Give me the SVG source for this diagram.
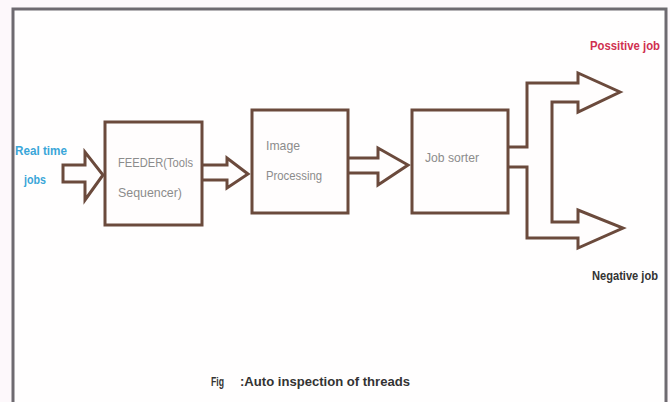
<svg xmlns="http://www.w3.org/2000/svg" width="670" height="402" viewBox="0 0 670 402">
<style>
.box{fill:#fffdfd;stroke:#6b4a3c;stroke-width:3}
.arr{fill:#fffdfd;stroke:#6b4a3c;stroke-width:3;stroke-linejoin:miter}
.t{font-family:"Liberation Sans",Arial,sans-serif;font-size:13px;fill:#8c8c8c}
.b{font-family:"Liberation Sans",Arial,sans-serif;font-size:13px;font-weight:bold}
</style>
<rect width="670" height="402" fill="#fdf8fb"/>
<path d="M13,404 V9 H666 V404" fill="#fffefe" stroke="#6e6a70" stroke-width="3"/>
<g id="connectors">
<path class="arr" d="M63,165 H85 V152 L103,175 L85,200 V182 H63 Z"/>
<path class="arr" d="M203,165 H227 V158 L248,174 L227,188 V180 H203"/>
<path class="arr" d="M349,158 H378 V148 L408,165 L378,185 V173 H349"/>
<path class="arr" d="M508,147 H527 V83 H578 V73 L620,92 L578,112 V102 H552 V222 H578 V210 L623,228 L578,248 V238 H527 V167 H508"/>
</g>
<g id="input">
<text class="b" x="15" y="155" fill="#3aa6d8" textLength="52" lengthAdjust="spacingAndGlyphs">Real time</text>
<text class="b" x="24" y="184" fill="#3aa6d8" textLength="22" lengthAdjust="spacingAndGlyphs">jobs</text>
</g>
<g id="feeder">
<rect class="box" x="105" y="122" width="97" height="103"/>
<text class="t" x="118" y="167" textLength="75" lengthAdjust="spacingAndGlyphs">FEEDER(Tools</text>
<text class="t" x="118" y="197" textLength="64" lengthAdjust="spacingAndGlyphs">Sequencer)</text>
</g>
<g id="image-processing">
<rect class="box" x="252" y="110" width="96" height="103"/>
<text class="t" x="266" y="150" textLength="34" lengthAdjust="spacingAndGlyphs">Image</text>
<text class="t" x="266" y="180" textLength="56" lengthAdjust="spacingAndGlyphs">Processing</text>
</g>
<g id="job-sorter">
<rect class="box" x="412" y="110" width="96" height="103"/>
<text class="t" x="425" y="162" textLength="54" lengthAdjust="spacingAndGlyphs">Job sorter</text>
</g>
<g id="positive">
<text class="b" x="590" y="50" fill="#d03050" textLength="70" lengthAdjust="spacingAndGlyphs">Possitive job</text>
</g>
<g id="negative">
<text class="b" x="592" y="280" fill="#333333" textLength="66" lengthAdjust="spacingAndGlyphs">Negative job</text>
</g>
<g id="caption">
<text class="b" x="211" y="386" fill="#333333" textLength="13" lengthAdjust="spacingAndGlyphs">Fig</text>
<text class="b" x="240" y="386" fill="#333333" textLength="170" lengthAdjust="spacingAndGlyphs">:Auto inspection of threads</text>
</g>
</svg>
